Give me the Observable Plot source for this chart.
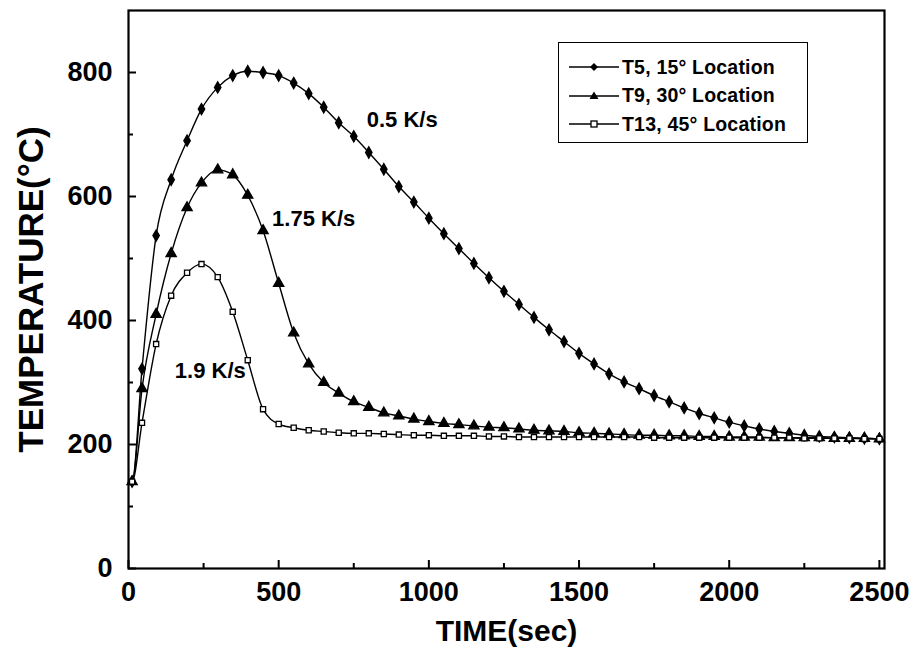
<!DOCTYPE html>
<html><head><meta charset="utf-8">
<script src="https://cdn.jsdelivr.net/npm/d3@7"></script>
<script src="https://cdn.jsdelivr.net/npm/@observablehq/plot@0.6"></script>
<style>
body{margin:0;background:#fff;}
#wrap{position:relative;width:919px;height:667px;font-family:"Liberation Sans",Arial,sans-serif;}
#legend{position:absolute;left:558px;top:42px;width:250px;height:101px;border:1.5px solid #000;box-sizing:border-box;background:#fff;padding-top:10px;padding-left:10px}
.row{display:flex;align-items:center;height:28.5px;font-weight:bold;font-size:19.5px;letter-spacing:0.2px;color:#000;white-space:nowrap}
.row svg{margin-right:1px}
</style></head>
<body><div id="wrap"><div id="legend"></div></div>
<script>
// ---- data ----
const times = [0,12,45,92,142,195,243,297,347,397,448,500,550,600,650,700,750,800,850,900,950,1000,1050,1100,1150,1200,1250,1300,1350,1400,1450,1500,1550,1600,1650,1700,1750,1800,1850,1900,1950,2000,2050,2100,2150,2200,2250,2300,2350,2400,2450,2500];
const T5 = [140,140,322,537,627,690,741,776,795,802,800,795,783,766,744,719,697,671,644,616,591,565,540,516,492,469,447,426,405,385,366,347,330,314,301,290,279,269,259,250,243,236,230,225,221,218,215,213,212,211,210,209];
const T9 = [140,140,290,410,508,582,622,643,635,602,545,460,380,330,300,283,269,260,251,246,241,237,234,232,230,228,227,225,223,222,221,219,218,217,216,215,215,214,214,213,213,212,212,212,211,211,211,211,210,210,210,209];
const T13 = [140,140,235,362,440,477,491,470,414,336,257,233,227,223,221,219,218,218,217,216,215,215,214,214,214,213,213,212,212,212,212,212,212,212,212,212,211,211,211,211,211,211,211,211,211,211,210,210,210,210,209,209];
const seriesNames = ["T5, 15° Location","T9, 30° Location","T13, 45° Location"];
const xTicks = [0,500,1000,1500,2000,2500];
const xMinor = [250,750,1250,1750,2250];
const yTicks = [0,200,400,600,800];
const yMinor = [100,300,500,700];
const rateLabels = [
  {series: 0, at: 750, text: "0.5 K/s"},
  {series: 1, at: 448, text: "1.75 K/s"},
  {series: 2, at: 397, text: "1.9 K/s"}
];

// ---- build table ----
const valuesBy = [T5, T9, T13];
const rows = [];
valuesBy.forEach((vals, s) => vals.forEach((v, i) => rows.push({s, t: times[i], T: v})));
const valueAt = (s, t) => valuesBy[s][times.indexOf(t)];

const font = "Liberation Sans, Arial, sans-serif";
const symbols = [
  {symbol: "diamond", r: 3.4, fill: "#000", stroke: "#000"},
  {symbol: "triangle", r: 3.8, fill: "#000", stroke: "#000"},
  {symbol: "square", r: 2.9, fill: "#fff", stroke: "#000"}
];
const labelStyle = [
  {textAnchor: "start", dx: 13, dy: -16},
  {textAnchor: "start", dx: 9, dy: -12},
  {textAnchor: "end", dx: -2, dy: 11}
];

const chart = Plot.plot({
  width: 919,
  height: 667,
  marginLeft: 128,
  marginRight: 35,
  marginTop: 10,
  marginBottom: 99,
  style: {fontFamily: font, fontWeight: "bold", background: "#fff", color: "#000"},
  x: {domain: [0, 2517]},
  y: {domain: [0, 900]},
  marks: [
    Plot.axisX({ticks: xTicks, tickSize: 0, tickPadding: 13, tickFormat: d => String(d), fontSize: 27, fontWeight: "bold", label: null}),
    Plot.axisX({ticks: xTicks, tickSize: -8, strokeWidth: 2, text: null, label: null}),
    Plot.axisX({ticks: xMinor, tickSize: -5, strokeWidth: 2, text: null, label: null}),
    Plot.axisY({ticks: yTicks, tickSize: 0, tickPadding: 16, tickFormat: d => String(d), fontSize: 27, fontWeight: "bold", label: null}),
    Plot.axisY({ticks: yTicks, tickSize: -8, strokeWidth: 2, text: null, label: null}),
    Plot.axisY({ticks: yMinor, tickSize: -5, strokeWidth: 2, text: null, label: null}),
    Plot.frame({strokeWidth: 2.2}),
    Plot.line(rows, {x: "t", y: "T", z: "s", curve: "monotone-x", stroke: "#000", strokeWidth: 1.4}),
    ...symbols.map((sym, s) => Plot.dot(rows.filter(d => d.s === s && d.t > 0), {x: "t", y: "T", ...sym, strokeWidth: 1.3})),
    ...rateLabels.map((l, k) => Plot.text([l], {x: d => d.at, y: d => valueAt(d.series, d.at), text: "text", fontSize: 22, fontWeight: "bold", fill: "#000", ...labelStyle[k]})),
    Plot.text(["TIME(sec)"], {frameAnchor: "bottom", dy: 72, fontSize: 30, fontWeight: "bold", fill: "#000"}),
    Plot.text(["TEMPERATURE(°C)"], {frameAnchor: "left", textAnchor: "middle", rotate: -90, dx: -97, fontSize: 35, fontWeight: "bold", fill: "#000"})
  ]
});
document.getElementById("wrap").prepend(chart);

// ---- legend ----
const legend = document.getElementById("legend");
const markerSvg = [
  '<path d="M25,6 L29,10 L25,14 L21,10 Z" fill="#000"/>',
  '<path d="M25,5.5 L29.5,13 L20.5,13 Z" fill="#000"/>',
  '<rect x="22" y="7" width="6" height="6" fill="#fff" stroke="#000" stroke-width="1.3"/>'
];
seriesNames.forEach((name, i) => {
  const row = document.createElement("div");
  row.className = "row";
  row.innerHTML = `<svg width="52" height="20"><line x1="0" y1="10" x2="50" y2="10" stroke="#000" stroke-width="1.4"/>${markerSvg[i]}</svg><span>${name}</span>`;
  legend.appendChild(row);
});
</script>
</body></html>
